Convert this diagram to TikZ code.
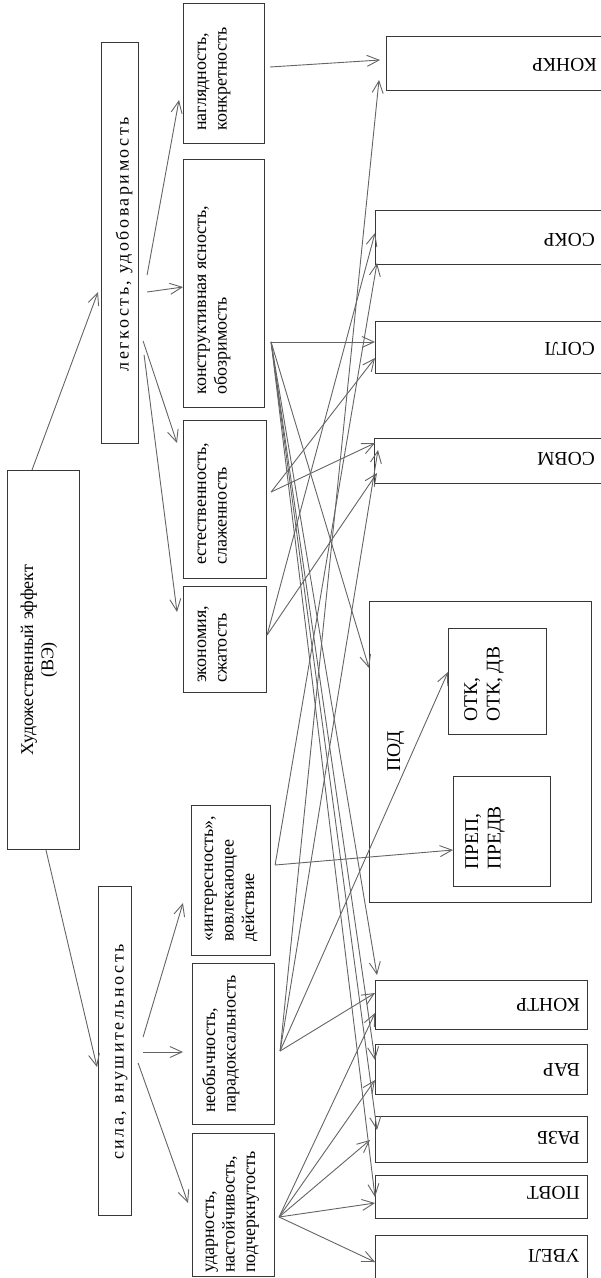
\documentclass[tikz,border=0pt]{standalone}
\usepackage{fontspec}
\setmainfont{Liberation Serif}
\newfontfamily\spacedserif[LetterSpace=14]{Liberation Serif}
\usetikzlibrary{calc,arrows.meta}
\definecolor{boxc}{RGB}{55,55,55}
\definecolor{linec}{RGB}{100,100,100}
\newcommand{\txtfont}{\fontsize{18}{20.5}\selectfont}
\newcommand{\capfont}{\fontsize{19.5}{22.5}\selectfont}
\newcommand{\twoline}[2]{\begin{tabular}[t]{@{}l@{}}#1\\#2\end{tabular}}
\begin{document}
\begin{tikzpicture}[x=1pt,y=-1pt,
  box/.style={draw=boxc, line width=1.1pt, inner sep=0pt, anchor=north west},
  vtxt/.style={rotate=90, inner sep=0pt, font=\txtfont},
  utxt/.style={rotate=180, inner sep=0pt, anchor=west, font=\capfont},
  conn/.style={draw=linec, line width=0.9pt, -{Straight Barb[length=12pt,width=11pt]}}]
\useasboundingbox (0,0) rectangle (601,1278);
\clip (0,0) rectangle (601,1278);

% --- left column: effect and its two branches
\node[box, minimum width=72, minimum height=379] (ve) at (7,470) {};
\node[box, minimum width=37, minimum height=401] (leg) at (101,42) {};
\node[box, minimum width=33, minimum height=329] (sila) at (98,886) {};
\node[vtxt, anchor=base] (vet) at (33,660)
  {\begin{tabular}[t]{@{}c@{}}Художественный эффект\\(ВЭ)\end{tabular}};
\node[vtxt, anchor=base, font=\txtfont\spacedserif] (legt) at (128.5,244) {легкость, удобоваримость};
\node[vtxt, anchor=base, font=\txtfont\spacedserif] (silat) at (123.5,1052) {сила, внушительность};

% --- middle column: particular effects
\node[box, minimum width=81, minimum height=140] (nagl) at (183,3) {};
\node[box, minimum width=81, minimum height=248] (konstr) at (183,159) {};
\node[box, minimum width=83, minimum height=158] (estes) at (183,420) {};
\node[box, minimum width=83, minimum height=106] (ekon) at (183,586) {};
\node[box, minimum width=79, minimum height=150] (inter) at (191,805) {};
\node[box, minimum width=82, minimum height=161] (neob) at (192,963) {};
\node[box, minimum width=82, minimum height=143] (udar) at (192,1133) {};

\node[vtxt, anchor=base west] (naglt) at (206,131) {\twoline{наглядность,}{конкретность}};
\node[vtxt, anchor=base west] (konstrt) at (206,395) {\twoline{конструктивная ясность,}{обозримость}};
\node[vtxt, anchor=base west] (estest) at (206,565) {\twoline{естественность,}{слаженность}};
\node[vtxt, anchor=base west] (ekont) at (206,683) {\twoline{экономия,}{сжатость}};
\node[vtxt, anchor=base west] (intert) at (213,942)
  {\begin{tabular}[t]{@{}l@{}}«интересность»,\\вовлекающее\\действие\end{tabular}};
\node[vtxt, anchor=base west] (neobt) at (215,1113) {\twoline{необычность,}{парадоксальность}};
\node[vtxt, anchor=base west] (udart) at (214,1273)
  {\begin{tabular}[t]{@{}l@{}}ударность,\\настойчивость,\\подчеркнутость\end{tabular}};

% --- right column: devices
\node[box, minimum width=217, minimum height=54] (konkr) at (386,36) {};
\node[box, minimum width=228, minimum height=54] (sokr) at (375,210) {};
\node[box, minimum width=228, minimum height=52] (sogl) at (375,321) {};
\node[box, minimum width=229, minimum height=45] (sovm) at (374,438) {};
\node[box, minimum width=222, minimum height=301] (pod) at (369,601) {};
\node[box, minimum width=98, minimum height=106] (otk) at (448,628) {};
\node[box, minimum width=97, minimum height=110] (prep) at (453,776) {};
\node[box, minimum width=212, minimum height=49] (kontr) at (375,980) {};
\node[box, minimum width=212, minimum height=50] (var) at (375,1044) {};
\node[box, minimum width=212, minimum height=46] (razb) at (375,1116) {};
\node[box, minimum width=212, minimum height=43] (povt) at (375,1175) {};
\node[box, minimum width=212, minimum height=60] (uvel) at (375,1235) {};

\node[utxt] (konkrt) at (597,64.5) {КОНКР};
\node[utxt] (sokrt) at (595,240) {СОКР};
\node[utxt] (soglt) at (595,349) {СОГЛ};
\node[utxt] (sovmt) at (595,459) {СОВМ};
\node[utxt] (kontrt) at (580,1005) {КОНТР};
\node[utxt] (vart) at (580,1070) {ВАР};
\node[utxt] (razbt) at (580,1138) {РАЗБ};
\node[utxt] (povtt) at (580,1193) {ПОВТ};
\node[utxt] (uvelt) at (580,1256) {УВЕЛ};
\node[vtxt, anchor=base, font=\capfont] (podt) at (400,751) {ПОД};
\node[vtxt, anchor=base west, font=\capfont] (otkt) at (477,722) {\twoline{ОТК,}{ОТК, ДВ}};
\node[vtxt, anchor=base west, font=\capfont] (prept) at (478,870) {\twoline{ПРЕП,}{ПРЕДВ}};

% --- connector start points on the middle column
\coordinate (naglf) at ($(nagl.north east)+(5,64)$);
\coordinate (kf) at ($(konstr.north east)+(6,183)$);
\coordinate (ef) at ($(estes.north east)+(4,72)$);
\coordinate (ekf) at ($(ekon.north east)+(0,49)$);
\coordinate (intf) at ($(inter.north east)+(4,60)$);
\coordinate (nf) at ($(neob.north east)+(5,88)$);
\coordinate (uf) at ($(udar.north east)+(4,84)$);

% --- hierarchy arrows
\draw[conn] ($(ve.north west)+(25,0)$) -- ($(leg.north west)+(-3,250)$);
\draw[conn] ($(ve.south west)+(39,0)$) -- ($(sila.north west)+(-1,181)$);
\draw[conn] ($(leg.north east)+(8,233)$) -- ($(nagl.north west)+(-4,97)$);
\draw[conn] ($(leg.north east)+(8,250)$) -- ($(konstr.north west)+(0,128)$);
\draw[conn] ($(leg.north east)+(4,299)$) -- ($(estes.north west)+(-6,23)$);
\draw[conn] ($(leg.north east)+(5,313)$) -- ($(ekon.north west)+(-6,26)$);
\draw[conn] ($(sila.north east)+(11,151)$) -- ($(inter.north west)+(-8,98)$);
\draw[conn] ($(sila.north east)+(11,166)$) -- ($(neob.north west)+(-9,89)$);
\draw[conn] ($(sila.north east)+(6,177)$) -- ($(udar.north west)+(-4,70)$);

% --- effect-to-device arrows
\draw[conn] (naglf) -- ($(konkr.north west)+(-6,24)$);
\draw[conn] (nf) -- ($(konkr.north west)+(-7,44)$);
\draw[conn] (ekf) -- ($(sokr.north west)+(0,23)$);
\draw[conn] (intf) -- ($(sokr.north west)+(2,53)$);
\draw[conn] (kf) -- ($(sogl.north west)+(0,21)$);
\draw[conn] (ef) -- ($(sogl.north west)+(0,37)$);
\draw[conn] (ef) -- ($(sovm.north west)+(1,5)$);
\draw[conn] (nf) -- ($(sovm.north west)+(4,12)$);
\draw[conn] (ekf) -- ($(sovm.north west)+(3,35)$);
\draw[conn] (kf) -- ($(pod.north west)+(0,67)$);
\draw[conn] (nf) -- ($(otk.north west)+(0,44)$);
\draw[conn] (intf) -- ($(prep.north west)+(0,74)$);
\draw[conn] (kf) -- ($(kontr.north west)+(2,-5)$);
\draw[conn] (nf) -- ($(kontr.north west)+(0,13)$);
\draw[conn] (uf) -- ($(kontr.north west)+(0,33)$);
\draw[conn] (kf) -- ($(var.north west)+(0,16)$);
\draw[conn] (uf) -- ($(var.north west)+(0,36)$);
\draw[conn] (kf) -- ($(razb.north west)+(2,14)$);
\draw[conn] (uf) -- ($(razb.north west)+(-5,24)$);
\draw[conn] (kf) -- ($(povt.north west)+(0,22)$);
\draw[conn] (uf) -- ($(povt.north west)+(0,28)$);
\draw[conn] (uf) -- ($(uvel.north west)+(0,27)$);
\end{tikzpicture}
\end{document}
